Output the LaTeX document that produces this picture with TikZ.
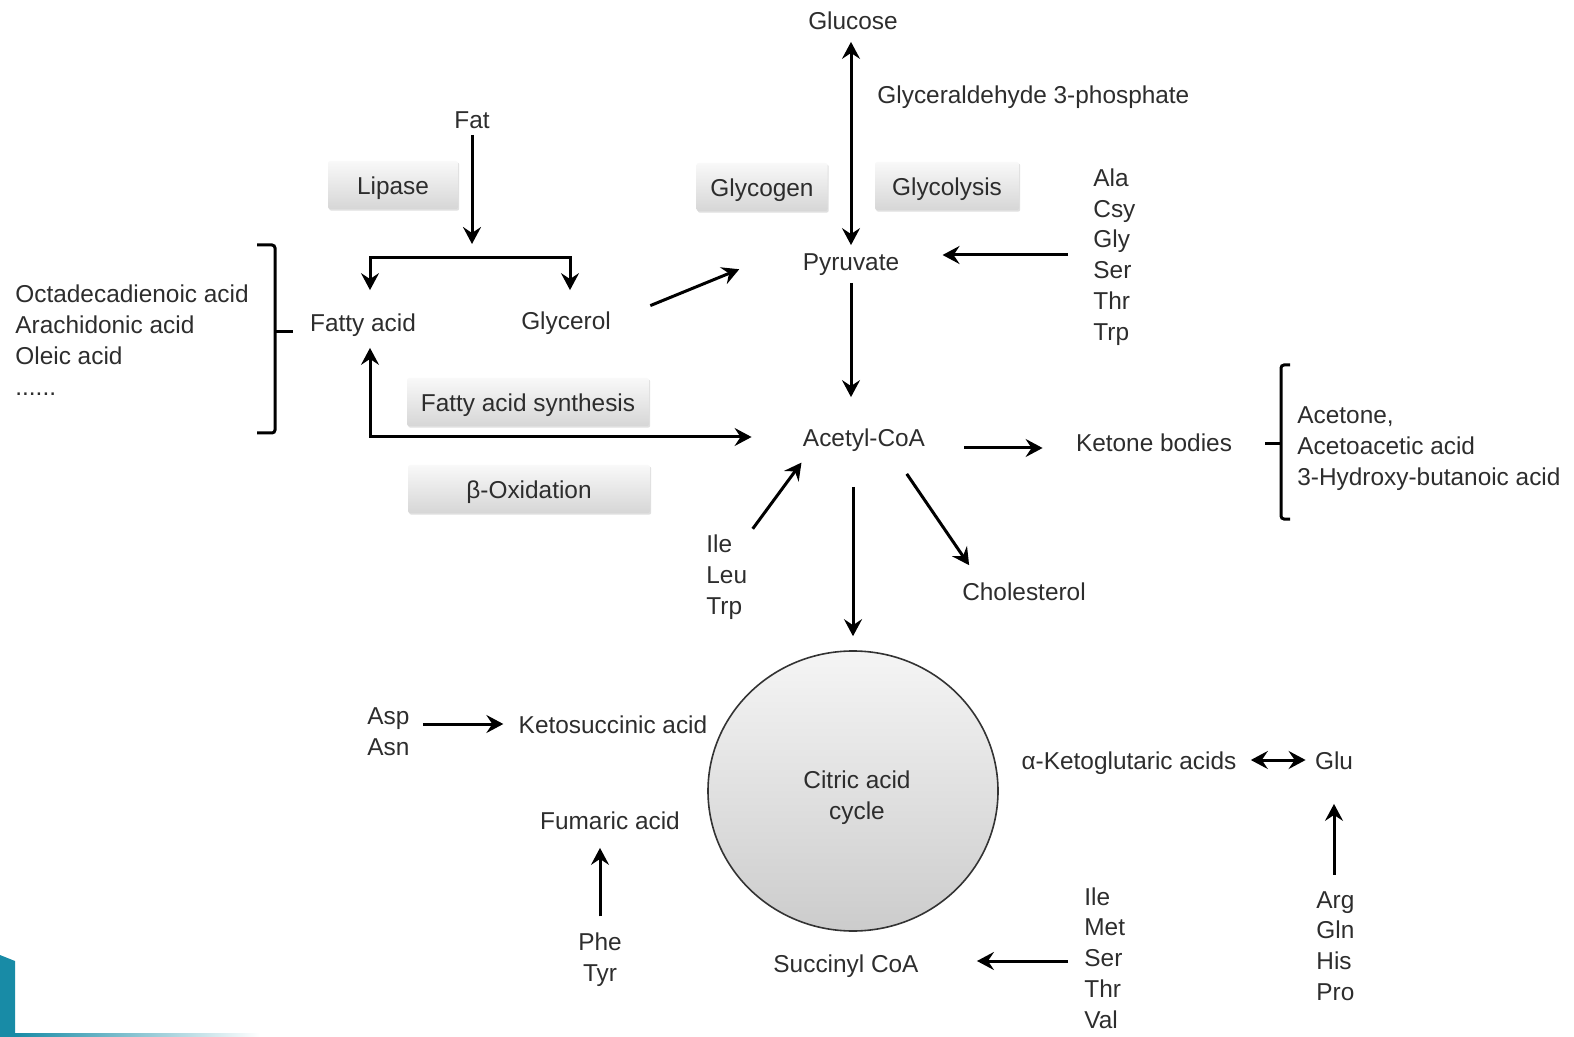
\documentclass[tikz,border=0pt]{standalone}
\usepackage{fontspec}
\setmainfont{Liberation Sans}
\usetikzlibrary{arrows.meta,calc,shadows,shapes.geometric}
\definecolor{slidebar}{RGB}{24,139,166}
\definecolor{txtgray}{RGB}{45,45,45}
\newcommand{\lblfont}{\fontsize{12.2}{15.4}\selectfont}
\tikzset{
  lbl/.style={inner sep=2pt, text height=10.5pt, text depth=1pt, font=\lblfont, text=txtgray},
  lst/.style={inner sep=2pt, align=left, font=\lblfont, text=txtgray, anchor=west},
  enzbox/.style={lbl, minimum height=24pt, rounded corners=1pt, top color=gray!5,
    bottom color=gray!32, drop shadow={shadow xshift=0.6pt, shadow yshift=-0.8pt, opacity=0.25}},
  flow/.style={line width=1.5pt, >={Stealth[length=8.5pt,width=9pt,inset=3pt]}},
  brk/.style={line width=1.5pt, rounded corners=1.5pt}
}

\begin{document}
\begin{tikzpicture}[x=0.5pt,y=-0.5pt]
  \useasboundingbox (0,0) rectangle (1574,1037);
  % slide corner
  \fill[slidebar] (0,955) -- (15,961) -- (15,1037) -- (0,1037) -- cycle;
  \shade[left color=slidebar, right color=white] (15,1033) rectangle (260,1037);

  % top part
  \node[lbl] (glucose) at (853,20) {Glucose};
  \node[lbl,anchor=west] (g3p) at (873,94) {Glyceraldehyde 3-phosphate};
  \node[lbl] (fat) at (472,119) {Fat};
  \node[enzbox,minimum width=65pt] (lipase) at (393,185) {Lipase};
  \node[enzbox,minimum width=65.5pt] (glycogen) at (762,187) {Glycogen};
  \node[enzbox,minimum width=72pt] (glycolysis) at (947,186) {Glycolysis};
  \node[lst] (alaA) at (1089,257) {Ala\\Csy\\Gly\\Ser\\Thr\\Trp};
  \node[lbl] (pyr) at (851,261) {Pyruvate};
  \node[lbl] (fatty) at (363,322) {Fatty acid};
  \node[lbl] (glyc) at (566,320) {Glycerol};
  \node[lst] (falist) at (11,340) {Octadecadienoic acid\\Arachidonic acid\\Oleic acid\\......};
  \node[enzbox,minimum width=121pt] (fasyn) at (528,402) {Fatty acid synthesis};
  \node[enzbox,minimum width=121pt] (betaox) at (529,489) {β-Oxidation};

  % middle part
  \node[lbl] (acetyl) at (864,437) {Acetyl-CoA};
  \node[lbl] (ketone) at (1154,442) {Ketone bodies};
  \node[lst] (kblist) at (1293,448.5) {Acetone,\\Acetoacetic acid\\3-Hydroxy-butanoic acid};
  \node[lst] (ileA) at (702,577) {Ile\\Leu\\Trp};
  \node[lbl] (chol) at (1024,591) {Cholesterol};

  % citric acid cycle
  \node[ellipse, draw=black!80, line width=0.8pt, minimum width=145pt, minimum height=140pt,
    top color=gray!8, bottom color=gray!40] (tca) at (853,791) {};
  \node[lst,anchor=center,align=center] (tcalbl) at (857,798) {Citric acid\\cycle};
  \node[lst] (asp) at (363,731.5) {Asp\\Asn};
  \node[lbl] (ketos) at (613,724) {Ketosuccinic acid};
  \node[lbl] (fum) at (610,820) {Fumaric acid};
  \node[lst,anchor=center,align=center] (phe) at (600,959.5) {Phe\\Tyr};
  \node[lbl] (succ) at (846,963) {Succinyl CoA};
  \node[lst] (ileB) at (1080,958) {Ile\\Met\\Ser\\Thr\\Val};
  \node[lbl] (akg) at (1129,760) {α-Ketoglutaric acids};
  \node[lbl] (glu) at (1334,760) {Glu};
  \node[lst] (argA) at (1312,946) {Arg\\Gln\\His\\Pro};

  % brackets
  \draw[brk] (257,245) -- (275,245) -- (275,433) -- (257,433);
  \draw[brk] (275,332) -- (293,332);
  \draw[brk] (1290,365) -- (1281,365) -- (1281,519) -- (1290,519);
  \draw[brk] (1281,444) -- (1265,444);

  % arrows
  \coordinate (fork) at (472,244);
  \coordinate (barL) at (370,258);
  \coordinate (barR) at (570,258);
  \coordinate (fcorner) at (370,437);
  \draw[flow,<->,shorten >=3pt] (pyr.north) -- (pyr.north |- glucose.south);
  \draw[flow,->] (fat) -- (fork);
  \draw[flow,<->,shorten <=8pt,shorten >=7pt] (barL |- fatty.north) -- (barL) -- (barR) -- (barR |- glyc.north);
  \draw[flow,->,shorten <=19pt,shorten >=32pt] (glyc.east) -- ([yshift=8pt]pyr.west);
  \draw[flow,->,shorten <=10.5pt,shorten >=19.5pt] ([yshift=1pt]alaA.west) -- ([yshift=1pt]alaA.west -| pyr.east);
  \draw[flow,->,shorten <=3pt,shorten >=12pt] (pyr.south) -- (pyr.south |- acetyl.north);
  \draw[flow,<->,shorten <=5pt,shorten >=23.5pt] (fcorner |- fatty.south) -- (fcorner) -- (acetyl.west);
  \draw[flow,->,shorten <=17.5pt,shorten >=14.5pt] ([yshift=-5.5pt]acetyl.east) -- ([yshift=-5.5pt]acetyl.east -| ketone.west);
  \draw[flow,->,shorten <=1pt,shorten >=6pt] (ileA.north east) -- ([xshift=5pt]acetyl.south west);
  \draw[flow,->,shorten <=17pt,shorten >=7pt] (tca.north |- acetyl.south) -- (tca.north);
  \draw[flow,->,shorten <=12.7pt,shorten >=6pt] ([xshift=-18.5pt]acetyl.south east) -- ([xshift=9pt]chol.north west);
  \draw[flow,->,shorten <=4.5pt,shorten >=5.5pt] (ketos.west -| asp.east) -- (ketos.west);
  \draw[flow,->,shorten <=6pt,shorten >=6pt] (phe.north) -- (phe.north |- fum.south);
  \draw[flow,->,shorten <=6pt,shorten >=27pt] ([yshift=-1.5pt]ileB.west) -- ([yshift=-1.5pt]ileB.west -| succ.east);
  \draw[flow,<->,shorten <=5pt,shorten >=2.5pt] (akg.east) -- (glu.west);
  \draw[flow,->,shorten <=6pt,shorten >=14pt] (glu.south |- argA.north) -- (glu.south);
\end{tikzpicture}
\end{document}
